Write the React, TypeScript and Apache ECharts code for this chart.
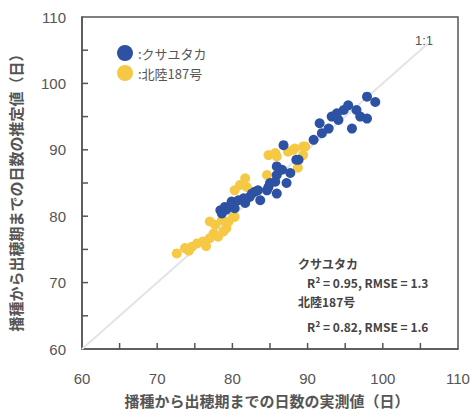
import React, { useEffect, useRef } from "react";
import * as echarts from "echarts";

const seriesNames = ["クサユタカ", "北陸187号"];
const kusaData: number[][] = [
  [78.4, 80.9], [78.6, 80.4], [79.0, 81.4], [79.2, 81.0], [79.9, 82.2], [80.3, 81.2],
  [80.8, 82.4], [81.5, 82.7], [81.7, 82.0], [82.3, 82.9], [82.6, 83.4], [83.0, 83.7],
  [83.4, 83.9], [83.7, 82.4], [84.6, 83.9], [84.8, 84.4], [85.0, 85.0], [85.7, 85.2],
  [85.9, 83.4], [85.9, 86.2], [85.9, 87.5], [86.6, 87.0], [86.8, 90.7], [87.2, 85.0],
  [87.7, 86.5], [88.5, 88.5], [88.8, 88.5], [90.8, 91.5], [91.6, 94.0], [91.9, 92.5],
  [92.8, 93.2], [93.2, 95.0], [93.9, 95.5], [94.1, 94.5], [94.8, 96.0], [95.4, 96.7],
  [95.9, 93.2], [96.5, 96.0], [97.0, 95.0], [97.9, 98.0], [97.9, 94.7], [99.0, 97.2],
];
const hokuData: number[][] = [
  [72.6, 74.4], [73.7, 75.2], [74.2, 74.8], [74.6, 75.4], [75.3, 75.9], [76.1, 76.2],
  [76.5, 75.5], [77.0, 76.7], [77.5, 77.4], [78.1, 76.9], [78.8, 77.7], [79.2, 78.2],
  [77.7, 78.7], [79.5, 79.2], [77.0, 79.2], [78.6, 79.4], [80.1, 79.9], [80.3, 79.9],
  [80.3, 83.9], [81.0, 84.7], [81.7, 85.7], [81.9, 84.4], [84.6, 86.2], [84.8, 89.2],
  [85.7, 89.5], [85.9, 89.0], [87.4, 89.7], [88.1, 90.0], [88.3, 90.2], [89.4, 90.5],
  [89.7, 90.5], [89.4, 89.2], [88.7, 87.3],
];
const oneToOne: number[][] = [[60, 60], [106, 106]];
const tickValues = [65, 70, 75, 80, 85, 90, 95, 100, 105];
const axisMin = 60;
const axisMax = 110;
const labelStep = 10;
const xTitle = "播種から出穂期までの日数の実測値（日）";
const yTitle = "播種から出穂期までの日数の推定値（日）";
const statLines = ["クサユタカ", "R² = 0.95, RMSE = 1.3", "北陸187号", "R² = 0.82, RMSE = 1.6"];

const BLUE = "#2d52a3";
const YELLOW = "#f6c945";
const AXIS = "#555";
const JP = '"Noto Sans CJK JP", sans-serif';
const TICK_LEN = 6;

export default function App() {
  const ref = useRef<HTMLDivElement>(null);
  useEffect(() => {
    if (!ref.current) return;
    const chart = echarts.init(ref.current, undefined, { renderer: "svg" });
    const axisCommon = {
      type: "value" as const,
      min: axisMin,
      max: axisMax,
      interval: labelStep,
      axisLine: { show: true, onZero: false, lineStyle: { color: AXIS, width: 1.5 } },
      axisTick: { show: false },
      splitLine: { show: false },
      axisLabel: {
        fontSize: 15,
        color: AXIS,
        fontFamily: '"Liberation Sans", Arial, sans-serif',
      },
    };
    const tickStyle = { stroke: AXIS, lineWidth: 1.5, fill: null };
    chart.setOption({
      animation: false,
      grid: {
        left: 82, top: 17, right: 16, bottom: 65,
        show: true, borderColor: AXIS, borderWidth: 1.5,
        containLabel: false, outerBoundsMode: "none",
      },
      xAxis: { ...axisCommon, axisLabel: { ...axisCommon.axisLabel, margin: 22 } },
      yAxis: { ...axisCommon, axisLabel: { ...axisCommon.axisLabel, margin: 16 } },
      legend: {
        data: seriesNames,
        orient: "vertical",
        left: 112,
        top: 40,
        icon: "circle",
        itemWidth: 16,
        itemHeight: 16,
        itemGap: 4,
        formatter: (n: string) => ":" + n,
        textStyle: { fontSize: 13, color: AXIS, fontFamily: JP },
      },
      series: [
        {
          type: "custom",
          coordinateSystem: "cartesian2d",
          silent: true,
          clip: false,
          data: tickValues.map((v) => [v, v]),
          renderItem: (params: any, api: any) => {
            const v = api.value(0);
            const bx = api.coord([v, axisMin]);
            const ly = api.coord([axisMin, v]);
            return {
              type: "group",
              children: [
                { type: "line", shape: { x1: bx[0], y1: bx[1], x2: bx[0], y2: bx[1] - TICK_LEN }, style: tickStyle },
                { type: "line", shape: { x1: ly[0], y1: ly[1], x2: ly[0] + TICK_LEN, y2: ly[1] }, style: tickStyle },
              ],
            };
          },
          z: 5,
        },
        {
          type: "line",
          data: oneToOne,
          showSymbol: false,
          lineStyle: { color: "#e4e4e4", width: 2 },
          silent: true,
          z: 1,
        },
        {
          name: seriesNames[1],
          type: "scatter",
          data: hokuData,
          symbolSize: 10,
          itemStyle: { color: YELLOW, opacity: 1 },
          z: 2,
        },
        {
          name: seriesNames[0],
          type: "scatter",
          data: kusaData,
          symbolSize: 10,
          itemStyle: { color: BLUE, opacity: 1 },
          z: 3,
        },
      ],
      graphic: [
        {
          type: "text", left: 415, top: 34,
          style: { text: "1:1", fontSize: 13, fill: AXIS, fontFamily: '"Liberation Sans", Arial, sans-serif' },
        },
        {
          type: "text", x: 267, y: 400,
          style: { text: xTitle, fontSize: 15, fontWeight: "bold", fill: AXIS, fontFamily: JP, align: "center", verticalAlign: "middle" },
        },
        {
          type: "text", x: 15, y: 189, rotation: Math.PI / 2,
          style: { text: yTitle, fontSize: 15, fontWeight: "bold", fill: AXIS, fontFamily: JP, align: "center", verticalAlign: "middle" },
        },
        {
          type: "text", x: 298, y: 263,
          style: { text: statLines[0], fontSize: 12, fontWeight: "bold", fill: "#444", fontFamily: JP, verticalAlign: "middle" },
        },
        {
          type: "text", x: 307, y: 282,
          style: { text: statLines[1], fontSize: 12, fontWeight: "bold", fill: "#444", fontFamily: JP, verticalAlign: "middle" },
        },
        {
          type: "text", x: 298, y: 301,
          style: { text: statLines[2], fontSize: 12, fontWeight: "bold", fill: "#444", fontFamily: JP, verticalAlign: "middle" },
        },
        {
          type: "text", x: 307, y: 326,
          style: { text: statLines[3], fontSize: 12, fontWeight: "bold", fill: "#444", fontFamily: JP, verticalAlign: "middle" },
        },
      ],
    });
    return () => chart.dispose();
  }, []);
  return (
    <div
      ref={ref}
      style={{ position: "fixed", left: 0, top: 0, width: 474, height: 414, background: "#fff" }}
    />
  );
}
